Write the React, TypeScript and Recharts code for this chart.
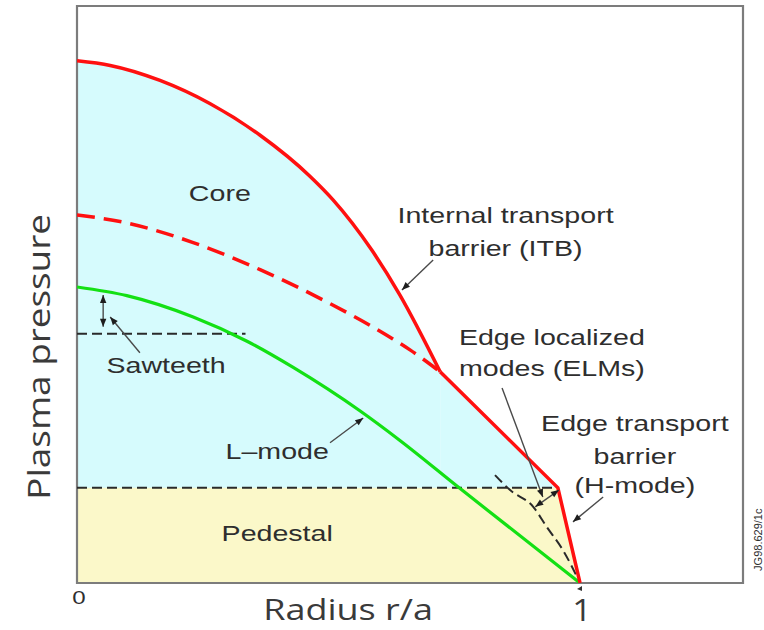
import React from 'react';
import {
  ComposedChart,
  Area,
  Line,
  XAxis,
  YAxis,
  ReferenceLine,
  ReferenceDot,
  ReferenceArea,
} from 'recharts';

// ---- Data (radius r/a, plasma pressure in arbitrary units 0..10) ----
const redCurveR = [0, 0.066, 0.165, 0.264, 0.364, 0.463, 0.509, 0.586, 0.642, 0.722];
const redCurveP = [9.05, 8.97, 8.71, 8.31, 7.76, 7.05, 6.64, 5.77, 4.99, 3.66];
const redEdgeR = [0.722, 0.956, 1.0];
const redEdgeP = [3.66, 1.65, 0];
const redDashR = [0, 0.099, 0.231, 0.364, 0.497, 0.628, 0.662, 0.722];
const redDashP = [6.38, 6.24, 5.9, 5.43, 4.87, 4.23, 4.04, 3.66];
const greenR = [0, 0.099, 0.231, 0.338, 0.429, 0.563, 0.642, 0.761, 1.0];
const greenP = [5.13, 4.98, 4.61, 4.19, 3.74, 2.98, 2.47, 1.64, 0];
const pedestalR = [0, 0.956];
const pedestalP = [1.65, 1.65];
const pedestalFillR = [0, 0.956, 1.0];
const pedestalFillP = [1.65, 1.65, 0];
const sawR = [0, 0.335];
const sawP = [4.32, 4.32];
const elmR = [0.831, 0.861, 0.907, 0.934, 0.966, 1.0];
const elmP = [1.87, 1.61, 1.32, 0.97, 0.57, 0];

const xTicks = [0, 1];
const xTickLabels = ['0', '1'];

// annotation texts and their anchor points (data units)
const labelTexts = [
  'Core',
  'Internal transport',
  'barrier (ITB)',
  'Sawteeth',
  'Edge localized',
  'modes (ELMs)',
  'Edge transport',
  'barrier',
  '(H-mode)',
  'L\u2013mode',
  'Pedestal',
];
const labelR = [0.284, 0.852, 0.852, 0.177, 0.944, 0.944, 1.109, 1.109, 1.109, 0.398, 0.398];
const labelP = [6.76, 6.38, 5.81, 3.78, 4.26, 3.73, 2.77, 2.2, 1.7, 2.29, 0.87];

// annotation arrows: from (r1,p1) to (r2,p2); both = double headed
const arrowR1 = [0.708, 0.503, 0.052, 0.125, 0.845, 0.958, 1.046];
const arrowP1 = [5.6, 2.43, 4.99, 3.99, 3.38, 1.61, 1.49];
const arrowR2 = [0.646, 0.569, 0.052, 0.066, 0.926, 0.911, 0.986];
const arrowP2 = [5.08, 2.86, 4.44, 4.61, 1.49, 1.32, 1.06];
const arrowBoth = [false, false, true, false, false, true, false];

// ---- table built from the arrays ----
function buildRows() {
  const map = new Map<number, any>();
  const add = (key: string, xs: number[], ys: number[]) => {
    xs.forEach((x, i) => {
      const row = map.get(x) ?? { r: x };
      row[key] = ys[i];
      map.set(x, row);
    });
  };
  add('redCurve', redCurveR, redCurveP);
  add('redEdge', redEdgeR, redEdgeP);
  add('redDash', redDashR, redDashP);
  add('green', greenR, greenP);
  add('ped', pedestalR, pedestalP);
  add('pedFill', pedestalFillR, pedestalFillP);
  add('saw', sawR, sawP);
  add('elm', elmR, elmP);
  return Array.from(map.values()).sort((a, b) => a.r - b.r);
}
const rows = buildRows();

const CYAN = '#d6fbfd';
const YELLOW = '#fbf8c9';
const RED = '#ff1010';
const GREEN = '#14e014';
const INK = '#2e2e2e';
const FRAME = '#7c7c7c';
const ANN_FONT = '"Liberation Sans", Arial, sans-serif';
const AX_FONT = '"Open Sans", "Noto Sans", sans-serif';

const arrowShape = (both: boolean) => (p: any) => {
  const { x1, y1, x2, y2 } = p;
  const head = (xa: number, ya: number, xb: number, yb: number) => {
    const ang = Math.atan2(yb - ya, xb - xa);
    const L = 8;
    const W = 3.2;
    const bx = xb - L * Math.cos(ang);
    const by = yb - L * Math.sin(ang);
    const px = -Math.sin(ang) * W;
    const py = Math.cos(ang) * W;
    return (
      <polygon
        points={`${xb},${yb} ${bx + px},${by + py} ${bx - px},${by - py}`}
        fill="#1e1e1e"
      />
    );
  };
  return (
    <g>
      <line x1={x1} y1={y1} x2={x2} y2={y2} stroke="#4a4a4a" strokeWidth={1.4} />
      {head(x1, y1, x2, y2)}
      {both ? head(x2, y2, x1, y1) : null}
    </g>
  );
};

const textShape = (label: string) => (p: any) => (
  <text
    transform={`translate(${p.cx},${p.cy}) scale(1.3,1)`}
    textAnchor="middle"
    dominantBaseline="central"
    fontFamily={ANN_FONT}
    fontSize={22}
    fill={INK}
  >
    {label}
  </text>
);

const codeShape = (p: any) => (
  <text
    transform={`translate(${p.cx},${p.cy}) rotate(-90)`}
    textAnchor="middle"
    dominantBaseline="central"
    fontFamily={ANN_FONT}
    fontSize={11}
    fill={INK}
  >
    JG98.629/1c
  </text>
);

const renderXTick = (p: any) => {
  const { x, y, payload } = p;
  const idx = xTicks.indexOf(payload.value);
  const txt = xTickLabels[idx];
  if (idx === 0) {
    return (
      <text
        transform={`translate(${x + 2},${y + 14}) scale(1.27,1)`}
        textAnchor="middle"
        dominantBaseline="central"
        fontFamily={ANN_FONT}
        fontSize={19}
        fill={INK}
      >
        {txt}
      </text>
    );
  }
  return (
    <g>
      <polygon
        points={`${x - 3},${y + 6} ${x + 2},${y + 3} ${x + 2},${y + 8}`}
        fill="#333"
      />
      <text
        transform={`translate(${x + 2},${y + 26}) scale(1.1,1)`}
        textAnchor="middle"
        dominantBaseline="central"
        fontFamily={AX_FONT}
        fontSize={31}
        fill="#3a3a3a"
      >
        {txt}
      </text>
    </g>
  );
};

const xLabel = (p: any) => {
  const vb = p.viewBox;
  return (
    <text
      transform={`translate(${vb.x + vb.width * 0.407},${vb.y + 26}) scale(1.2,1)`}
      textAnchor="middle"
      dominantBaseline="central"
      fontFamily={AX_FONT}
      fontSize={30}
      fill="#3a3a3a"
    >
      Radius r/a
    </text>
  );
};

const yLabel = (p: any) => {
  const vb = p.viewBox;
  const cx = vb.x + 38;
  const cy = vb.y + vb.height * 0.608;
  return (
    <text
      transform={`translate(${cx},${cy}) rotate(-90) scale(1.19,1)`}
      textAnchor="middle"
      dominantBaseline="central"
      fontFamily={AX_FONT}
      fontSize={31}
      fill="#3a3a3a"
    >
      Plasma pressure
    </text>
  );
};

export default function App() {
  return (
    <div style={{ position: 'absolute', left: 0, top: 0, width: 764, height: 630, background: '#fff' }}>
      <ComposedChart
        width={764}
        height={630}
        data={rows}
        margin={{ top: 6, right: 21, bottom: 0, left: 0 }}
      >
        <XAxis
          dataKey="r"
          type="number"
          domain={[0, 1.324]}
          ticks={xTicks}
          allowDataOverflow
          axisLine={false}
          tickLine={false}
          tickSize={0}
          tickMargin={0}
          height={47}
          tick={renderXTick}
          interval={0}
          label={{ content: xLabel }}
        />
        <YAxis
          type="number"
          domain={[0, 10]}
          allowDataOverflow
          width={77}
          axisLine={false}
          tickLine={false}
          tick={false}
          label={{ content: yLabel }}
        />

        {/* fills */}
        <Area dataKey="redCurve" type="monotone" fill={CYAN} fillOpacity={1} stroke="none" connectNulls isAnimationActive={false} />
        <Area dataKey="redEdge" type="linear" fill={CYAN} fillOpacity={1} stroke={CYAN} strokeWidth={1} connectNulls isAnimationActive={false} />
        <Area dataKey="pedFill" type="linear" fill={YELLOW} fillOpacity={1} stroke="none" connectNulls isAnimationActive={false} />

        {/* dashed black guide lines */}
        <Line dataKey="ped" type="linear" stroke="#2a2a2a" strokeWidth={2} strokeDasharray="10 5" dot={false} connectNulls isAnimationActive={false} />
        <Line dataKey="saw" type="linear" stroke="#2a2a2a" strokeWidth={2} strokeDasharray="10 5" dot={false} connectNulls isAnimationActive={false} />
        <Line dataKey="elm" type="monotone" stroke="#2a2a2a" strokeWidth={2} strokeDasharray="10 5" dot={false} connectNulls isAnimationActive={false} />

        {/* profiles */}
        <Line dataKey="green" type="monotone" stroke={GREEN} strokeWidth={3.2} dot={false} connectNulls isAnimationActive={false} />
        <Line dataKey="redDash" type="monotone" stroke={RED} strokeWidth={3.5} strokeDasharray="18 9" dot={false} connectNulls isAnimationActive={false} />
        <Line dataKey="redCurve" type="monotone" stroke={RED} strokeWidth={3.5} dot={false} connectNulls isAnimationActive={false} />
        <Line dataKey="redEdge" type="linear" stroke={RED} strokeWidth={3.5} strokeLinejoin="miter" dot={false} connectNulls isAnimationActive={false} />

        {/* frame */}
        <ReferenceArea x1={0} x2={1.324} y1={0} y2={10} fill="none" stroke={FRAME} strokeWidth={2.2} ifOverflow="visible" />

        {/* arrows */}
        {arrowR1.map((r1, i) => (
          <ReferenceLine
            key={'a' + i}
            segment={[
              { x: r1, y: arrowP1[i] },
              { x: arrowR2[i], y: arrowP2[i] },
            ]}
            ifOverflow="visible"
            shape={arrowShape(arrowBoth[i])}
          />
        ))}

        {/* texts */}
        {labelTexts.map((t, i) => (
          <ReferenceDot
            key={'t' + i}
            x={labelR[i]}
            y={labelP[i]}
            r={1}
            ifOverflow="visible"
            shape={textShape(t)}
          />
        ))}
        <ReferenceDot x={1.354} y={0.75} r={1} ifOverflow="visible" shape={codeShape} />
      </ComposedChart>
    </div>
  );
}
